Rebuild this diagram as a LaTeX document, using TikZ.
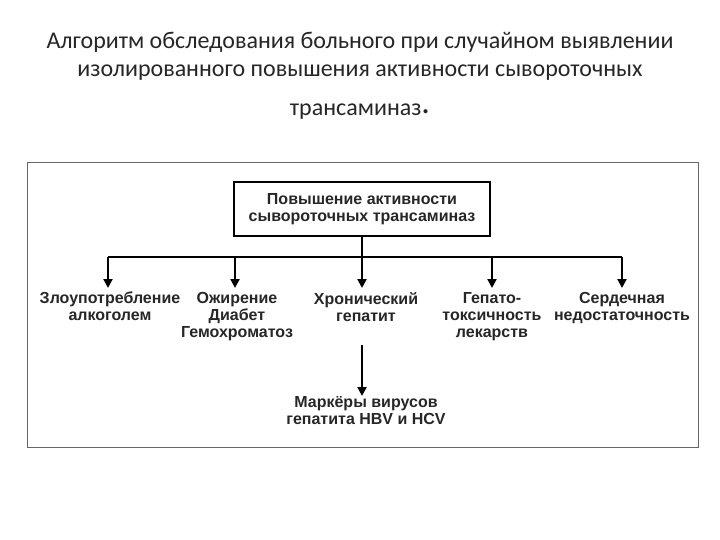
\documentclass[tikz,border=0pt]{standalone}
\usepackage{fontspec}
\setmainfont{Carlito}
\newfontfamily\lbl{Liberation Sans}
\usetikzlibrary{arrows.meta}
\begin{document}
\begin{tikzpicture}[x=1pt,y=-1pt,
  ttl/.style={font=\fontsize{24}{28}\selectfont, text=black!85},
  lab/.style={font=\lbl\bfseries\fontsize{16}{17}\selectfont, align=center, inner sep=0pt, text=black!85},
  arr/.style={line width=2.2pt, -{Triangle[length=9pt,width=9pt]}},
  thick line/.style={line width=2.2pt}]
\useasboundingbox (0,0) rectangle (720,540);
\node[ttl] (t1) at (360,42) {Алгоритм обследования больного при случайном выявлении};
\node[ttl] (t2) at (360,73) {изолированного повышения активности сывороточных};
\node[ttl] (t3) at (360,112) {трансаминаз\raisebox{2pt}{\fontsize{34}{34}\selectfont.}};
\node[draw=black!60, line width=1pt, minimum width=671pt, minimum height=284pt, inner sep=0pt] (frame) at (362.5,305) {};
\node[draw, line width=2pt, minimum width=256pt, minimum height=54pt, lab] (top) at (362,209) {Повышение активности\\сывороточных трансаминаз};
\coordinate (j) at (362,257);
\coordinate (l) at (108,257);
\coordinate (r) at (622,257);
\draw[thick line] (top.south) -- (j);
\draw[thick line] (l) -- (r);
\node[lab, anchor=north] (a1) at (110,292) {Злоупотребление\\алкоголем};
\node[lab, anchor=north] (a2) at (237,292) {Ожирение\\Диабет\\Гемохроматоз};
\node[lab, anchor=north] (a3) at (366,292) {Хронический\\гепатит};
\node[lab, anchor=north] (a4) at (492,292) {Гепато-\\токсичность\\лекарств};
\node[lab, anchor=north] (a5) at (622,292) {Сердечная\\недостаточность};
\draw[arr] (l) -- (108,288);
\draw[arr] (235,257) -- (235,288);
\draw[arr] (j) -- (362,288);
\draw[arr] (492,257) -- (492,288);
\draw[arr] (r) -- (622,288);
\node[lab, anchor=north] (m) at (366,396) {Маркёры вирусов\\гепатита HBV и HCV};
\draw[arr] (362,345) -- (m.north -| 362,0);
\end{tikzpicture}
\end{document}
